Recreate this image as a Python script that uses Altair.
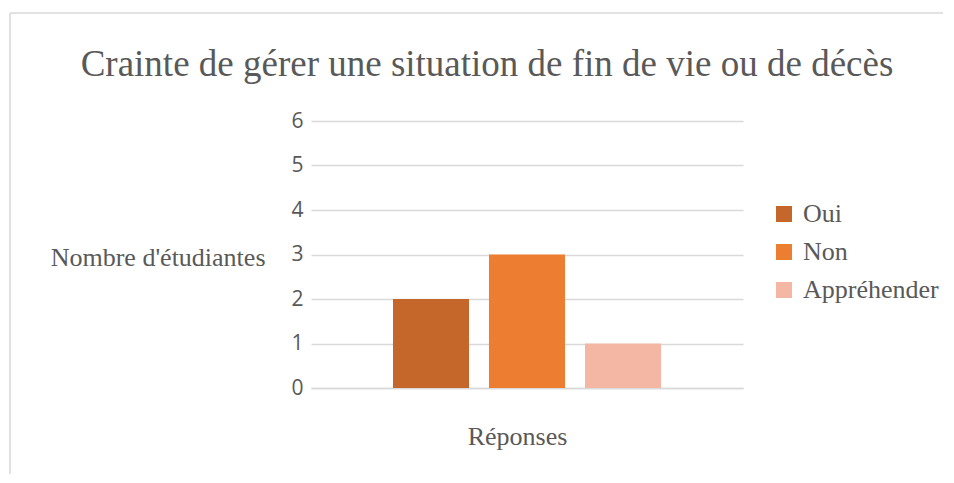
import altair as alt
import pandas as pd

categories = ["Oui", "Non", "Appréhender"]
values = [2, 3, 1]
colors = ["#C5662A", "#ED7D31", "#F3B7A3"]
y_ticks = [0, 1, 2, 3, 4, 5, 6]

df = pd.DataFrame({"Réponse": categories, "Nombre": values})

TXT = "#595959"
SERIF = "Liberation Serif"

bars = alt.Chart(df).mark_bar().encode(
    x=alt.X("Réponse:N", sort=categories,
            scale=alt.Scale(paddingInner=0.2083, paddingOuter=0.854),
            axis=alt.Axis(labels=False, ticks=False, domain=True,
                          domainColor="#D9D9D9", domainWidth=1.5,
                          title="Réponses", titleFont=SERIF, titleFontSize=26,
                          titleFontWeight="normal", titleColor=TXT,
                          titleX=206, titleY=56, titleBaseline="alphabetic")),
    y=alt.Y("Nombre:Q", scale=alt.Scale(domain=[0, 6]),
            axis=alt.Axis(values=y_ticks, format="d", ticks=False, domain=False,
                          gridColor="#D9D9D9", gridWidth=1.5,
                          labelFont="Open Sans", labelFontSize=21, labelColor=TXT,
                          labelPadding=8,
                          title="Nombre d'étudiantes", titleAngle=0,
                          titleAlign="right", titleBaseline="middle",
                          titleX=-46, titleY=136, titleFont=SERIF,
                          titleFontSize=26, titleFontWeight="normal",
                          titleColor=TXT)),
    color=alt.Color("Réponse:N", sort=categories,
                    scale=alt.Scale(domain=categories, range=colors),
                    legend=alt.Legend(title=None, orient="none",
                                      legendX=460, legendY=80,
                                      symbolType="square", symbolSize=256,
                                      symbolStrokeWidth=0,
                                      labelFont=SERIF, labelFontSize=26,
                                      labelColor=TXT, labelOffset=6,
                                      rowPadding=12)),
)

border_df = pd.DataFrame({"a": [0]})
top_border = alt.Chart(border_df).mark_rule(color="#D9D9D9", strokeWidth=1.5).encode(
    x=alt.value(-301), x2=alt.value(740), y=alt.value(-108))
left_border = alt.Chart(border_df).mark_rule(color="#D9D9D9", strokeWidth=1.5).encode(
    x=alt.value(-301), y=alt.value(-108), y2=alt.value(420))

chart = alt.layer(bars, top_border, left_border).properties(
    width=432, height=267,
    autosize=alt.AutoSizeParams(type="none"),
    padding={"left": 303, "top": 113, "right": 200, "bottom": 86},
    background="white",
    title=alt.TitleParams("Crainte de gérer une situation de fin de vie ou de décès",
                          font=SERIF, fontSize=37, fontWeight="normal", color=TXT,
                          anchor="middle", frame="group", dx=-40,
                          baseline="alphabetic", offset=-101),
).configure_view(stroke=None)

chart.save("out.html", embed_options={"renderer": "svg", "actions": False})
